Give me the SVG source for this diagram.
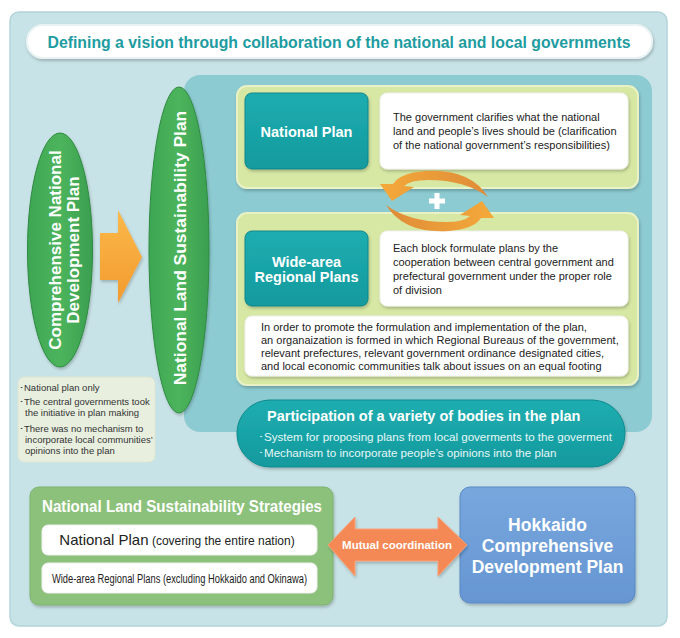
<svg xmlns="http://www.w3.org/2000/svg" width="680" height="638" viewBox="0 0 680 638">
<defs>
<filter id="sh" x="-10%" y="-10%" width="120%" height="130%"><feDropShadow dx="1" dy="2" stdDeviation="1.5" flood-color="#000" flood-opacity="0.22"/></filter>
<linearGradient id="gTeal" x1="0" y1="0" x2="0" y2="1"><stop offset="0" stop-color="#1fadb0"/><stop offset="1" stop-color="#129a9e"/></linearGradient>
<linearGradient id="gGreen" x1="0" y1="0" x2="1" y2="0"><stop offset="0" stop-color="#3da653"/><stop offset="0.5" stop-color="#4db45c"/><stop offset="1" stop-color="#3a9f50"/></linearGradient>
<linearGradient id="gOrange" x1="0" y1="0" x2="0" y2="1"><stop offset="0" stop-color="#fbb94a"/><stop offset="1" stop-color="#f39a2e"/></linearGradient>
<linearGradient id="gArc" x1="0" y1="0" x2="1" y2="0"><stop offset="0" stop-color="#f5a93a"/><stop offset="1" stop-color="#de8c38"/></linearGradient>
<linearGradient id="gArc2" x1="0" y1="0" x2="1" y2="0"><stop offset="0" stop-color="#de8c38"/><stop offset="1" stop-color="#f5a93a"/></linearGradient>
<linearGradient id="gBlue" x1="0" y1="0" x2="0" y2="1"><stop offset="0" stop-color="#78a7de"/><stop offset="1" stop-color="#6696d2"/></linearGradient>
</defs>
<style>
text{font-family:"Liberation Sans",Arial,sans-serif}
.b{font-weight:bold}
.w{fill:#fff}
.frame{fill:#d7e8a4;stroke:#e9f2c6;stroke-width:2}
.tealbox{fill:url(#gTeal);stroke:#0f878b;stroke-width:1}
.white{fill:#fff;stroke:#f0f0f0;stroke-width:1}
.body{font-size:11px;fill:#222}
.small{font-size:9.5px;fill:#333}
</style>
<rect x="10" y="12" width="657" height="614" rx="9" fill="#c8e3e7" stroke="#b3d4d9" stroke-width="1.5"/>
<g id="title">
<rect x="27" y="25" width="625" height="33" rx="16" fill="#fff" stroke="#eaf3f4" stroke-width="2" filter="url(#sh)"/>
<text x="339" y="48" text-anchor="middle" class="b" font-size="17" fill="#1d9ca1" textLength="583" lengthAdjust="spacingAndGlyphs">Defining a vision through collaboration of the national and local governments</text>
</g>
<g id="teal-panel">
<rect x="184" y="75" width="468" height="357" rx="16" fill="#8ccbd1"/>
</g>
<g id="old-plan">
<ellipse cx="60" cy="250" rx="32.5" ry="117" fill="url(#gGreen)" stroke="#2e8a40" stroke-width="1" filter="url(#sh)"/>
<text transform="translate(0,250) rotate(-90)" text-anchor="middle" class="b w" font-size="17"><tspan x="0" y="61">Comprehensive National</tspan><tspan x="0" y="79">Development Plan</tspan></text>
</g>
<g id="new-plan">
<ellipse cx="179" cy="250" rx="30" ry="163" fill="url(#gGreen)" stroke="#2e8a40" stroke-width="1" filter="url(#sh)"/>
<text transform="translate(0,248) rotate(-90)" text-anchor="middle" class="b w" font-size="17.4"><tspan x="0" y="186">National Land Sustainability Plan</tspan></text>
</g>
<g id="old-notes">
<rect x="18" y="377" width="137" height="85" rx="6" fill="#e8efdf" stroke="#dce6d0" stroke-width="1"/>
<text class="small"><tspan x="19" y="391">･National plan only</tspan><tspan x="19" y="405">･The central governments took</tspan><tspan x="25" y="416">the initiative in plan making</tspan><tspan x="19" y="432">･There was no mechanism to</tspan><tspan x="25" y="443">incorporate local communities’</tspan><tspan x="25" y="454">opinions into the plan</tspan></text>
</g>
<g id="national-frame">
<rect class="frame" x="237" y="86" width="401" height="102" rx="10" filter="url(#sh)"/>
</g>
<g id="national-plan">
<rect class="tealbox" x="245" y="93" width="123" height="76" rx="7" filter="url(#sh)"/>
<text x="306.5" y="137" text-anchor="middle" class="b w" font-size="14.5">National Plan</text>
</g>
<g id="national-desc">
<rect class="white" x="380" y="93" width="248" height="76" rx="7" filter="url(#sh)"/>
<text class="body"><tspan x="393" y="121">The government clarifies what the national</tspan><tspan x="393" y="135">land and people’s lives should be (clarification</tspan><tspan x="393" y="149">of the national government’s responsibilities)</tspan></text>
</g>
<g id="regional-frame">
<rect class="frame" x="237" y="213" width="401" height="172" rx="10" filter="url(#sh)"/>
</g>
<g id="regional-plan">
<rect class="tealbox" x="245" y="231" width="123" height="75" rx="7" filter="url(#sh)"/>
<text text-anchor="middle" class="b w" font-size="14.5"><tspan x="306.5" y="267">Wide-area</tspan><tspan x="306.5" y="282">Regional Plans</tspan></text>
</g>
<g id="regional-desc">
<rect class="white" x="380" y="231" width="248" height="75" rx="7" filter="url(#sh)"/>
<text class="body"><tspan x="393" y="252">Each block formulate plans by the</tspan><tspan x="393" y="266">cooperation between central government and</tspan><tspan x="393" y="280">prefectural government under the proper role</tspan><tspan x="393" y="294">of division</tspan></text>
</g>
<g id="regional-org">
<rect class="white" x="245" y="316" width="383" height="60" rx="7" filter="url(#sh)"/>
<text class="body" font-size="10.8"><tspan x="261" y="331">In order to promote the formulation and implementation of the plan,</tspan><tspan x="261" y="344">an organaization is formed in which Regional Bureaus of the government,</tspan><tspan x="261" y="357">relevant prefectures, relevant government ordinance designated cities,</tspan><tspan x="261" y="370">and local economic communities talk about issues on an equal footing</tspan></text>
</g>
<g id="participation">
<rect x="237" y="400" width="388" height="67" rx="33" fill="url(#gTeal)" stroke="#0e8a8e" stroke-width="1" filter="url(#sh)"/>
<text x="267" y="421" class="b w" font-size="14.5">Participation of a variety of bodies in the plan</text>
<text font-size="11.6" fill="#e6f7f7"><tspan x="258" y="441">･System for proposing plans from local goverments to the goverment</tspan><tspan x="258" y="457">･Mechanism to incorporate people’s opinions into the plan</tspan></text>
</g>
<g id="strategies">
<rect x="30" y="487" width="303" height="118" rx="9" fill="#8cc17c" stroke="#7cb36c" stroke-width="1" filter="url(#sh)"/>
<text x="182" y="512" text-anchor="middle" class="b w" font-size="16.5" textLength="280" lengthAdjust="spacingAndGlyphs">National Land Sustainability Strategies</text>
<rect class="white" x="42" y="525" width="275" height="30" rx="6"/>
<text x="177" y="545" text-anchor="middle" fill="#222"><tspan font-size="15">National Plan</tspan><tspan font-size="12"> (covering the entire nation)</tspan></text>
<rect class="white" x="42" y="563" width="275" height="30" rx="6"/>
<text x="179.5" y="582.5" text-anchor="middle" font-size="12.5" fill="#222" textLength="255" lengthAdjust="spacingAndGlyphs">Wide-area Regional Plans (excluding Hokkaido and Okinawa)</text>
</g>
<g id="hokkaido">
<rect x="460" y="487" width="175" height="116" rx="10" fill="url(#gBlue)" stroke="#5a88c4" stroke-width="1" filter="url(#sh)"/>
<text text-anchor="middle" class="b w" font-size="17.5"><tspan x="547.5" y="531">Hokkaido</tspan><tspan x="547.5" y="552">Comprehensive</tspan><tspan x="547.5" y="573">Development Plan</tspan></text>
</g>
<g id="connectors">
<polygon points="100,233 118,233 118,210 142,257 118,303 118,280 100,280" fill="url(#gOrange)" filter="url(#sh)"/>
<path d="M488 197 Q470 168 425 171 Q400 173 393 184 L380 184 L392 201 L414 187 L404 186 Q410 180 428 180 Q465 180 488 197 Z" fill="url(#gArc)"/>
<path d="M386 205 Q404 234 449 231 Q474 229 481 218 L494 218 L482 201 L460 215 L470 216 Q464 222 446 222 Q409 222 386 205 Z" fill="url(#gArc2)"/>
<path d="M437 193 V209 M429 201 H445" stroke="#fff" stroke-width="5"/>
<polygon points="328,545 355,517 355,529 438,529 438,517 467,545 438,576 438,561 355,561 355,576" fill="#f58954" stroke="#f7a27a" stroke-width="1" filter="url(#sh)"/>
<text x="397" y="549" text-anchor="middle" class="b w" font-size="11.5">Mutual coordination</text>
</g>
</svg>
